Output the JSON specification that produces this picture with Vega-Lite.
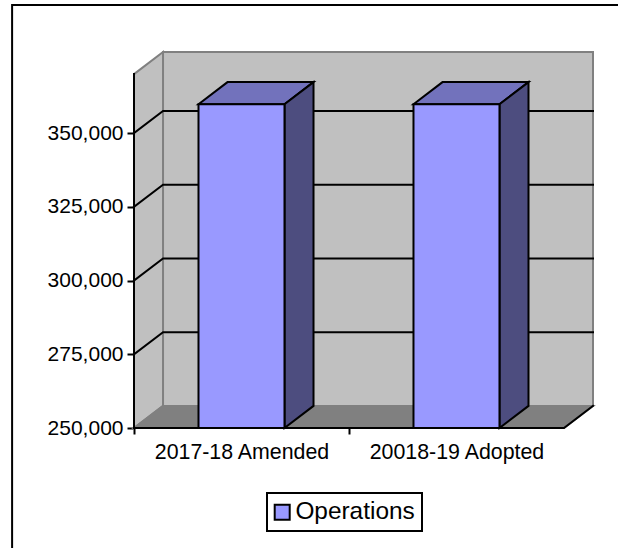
{
  "$schema": "https://vega.github.io/schema/vega-lite/v6.json",
  "width": 459,
  "height": 376,
  "padding": {"left": 134, "top": 52, "right": 25, "bottom": 120},
  "autosize": "none",
  "background": "white",
  "view": {"stroke": null},
  "datasets": {
    "walls": [
      {"face": "back wall", "x": 0.135, "low": 257500, "high": 377500},
      {"face": "back wall", "x": 2.135, "low": 257500, "high": 377500},
      {"face": "side wall", "x": 0, "low": 250000, "high": 370000},
      {"face": "side wall", "x": 0.135, "low": 257500, "high": 377500},
      {"face": "floor", "x": 0, "low": 250000, "high": 250000},
      {"face": "floor", "x": 0.135, "low": 250000, "high": 257500},
      {"face": "floor", "x": 2, "low": 250000, "high": 257500},
      {"face": "floor", "x": 2.135, "low": 257500, "high": 257500}
    ],
    "edges": [
      {"edge": "grid 275000", "order": 1, "x": 0, "y": 275000},
      {"edge": "grid 275000", "order": 2, "x": 0.135, "y": 282500},
      {"edge": "grid 275000", "order": 3, "x": 2.135, "y": 282500},
      {"edge": "grid 300000", "order": 1, "x": 0, "y": 300000},
      {"edge": "grid 300000", "order": 2, "x": 0.135, "y": 307500},
      {"edge": "grid 300000", "order": 3, "x": 2.135, "y": 307500},
      {"edge": "grid 325000", "order": 1, "x": 0, "y": 325000},
      {"edge": "grid 325000", "order": 2, "x": 0.135, "y": 332500},
      {"edge": "grid 325000", "order": 3, "x": 2.135, "y": 332500},
      {"edge": "grid 350000", "order": 1, "x": 0, "y": 350000},
      {"edge": "grid 350000", "order": 2, "x": 0.135, "y": 357500},
      {"edge": "grid 350000", "order": 3, "x": 2.135, "y": 357500},
      {"edge": "value axis", "order": 1, "x": 0, "y": 370000},
      {"edge": "value axis", "order": 2, "x": 0, "y": 250000},
      {"edge": "category axis", "order": 1, "x": 0, "y": 250000},
      {"edge": "category axis", "order": 2, "x": 2, "y": 250000},
      {"edge": "category axis", "order": 3, "x": 2.135, "y": 257500},
      {"edge": "frame", "order": 1, "x": -0.567, "y": 200000},
      {"edge": "frame", "order": 2, "x": -0.567, "y": 393400},
      {"edge": "frame", "order": 3, "x": 2.4, "y": 393400}
    ],
    "barFaces": [
      {"bar": "2017-18 Amended", "face": "top", "x": 0.3, "low": 359800, "high": 359800},
      {"bar": "2017-18 Amended", "face": "top", "x": 0.435, "low": 359800, "high": 367300},
      {"bar": "2017-18 Amended", "face": "top", "x": 0.7, "low": 359800, "high": 367300},
      {"bar": "2017-18 Amended", "face": "top", "x": 0.835, "low": 367300, "high": 367300},
      {"bar": "2017-18 Amended", "face": "side", "x": 0.7, "low": 250000, "high": 359800},
      {"bar": "2017-18 Amended", "face": "side", "x": 0.835, "low": 257500, "high": 367300},
      {"bar": "20018-19 Adopted", "face": "top", "x": 1.3, "low": 359800, "high": 359800},
      {"bar": "20018-19 Adopted", "face": "top", "x": 1.435, "low": 359800, "high": 367300},
      {"bar": "20018-19 Adopted", "face": "top", "x": 1.7, "low": 359800, "high": 367300},
      {"bar": "20018-19 Adopted", "face": "top", "x": 1.835, "low": 367300, "high": 367300},
      {"bar": "20018-19 Adopted", "face": "side", "x": 1.7, "low": 250000, "high": 359800},
      {"bar": "20018-19 Adopted", "face": "side", "x": 1.835, "low": 257500, "high": 367300}
    ],
    "bars": [
      {"category": "2017-18 Amended", "series": "Operations", "start": 0.3, "end": 0.7, "value": 359800},
      {"category": "20018-19 Adopted", "series": "Operations", "start": 1.3, "end": 1.7, "value": 359800}
    ]
  },
  "encoding": {
    "x": {
      "type": "quantitative",
      "scale": {"domain": [0, 2.135], "nice": false, "zero": false},
      "axis": {
        "title": null,
        "grid": false,
        "domain": false,
        "values": [0, 0.5, 1, 1.5],
        "tickColor": "black",
        "tickWidth": 2,
        "tickSize": 6,
        "tickOpacity": {"condition": {"test": "datum.value % 1 === 0", "value": 1}, "value": 0},
        "labelExpr": "datum.value === 0.5 ? '2017-18 Amended' : datum.value === 1.5 ? '20018-19 Adopted' : ''",
        "labelFont": "Liberation Sans",
        "labelFontSize": 21.35,
        "labelColor": "black",
        "labelPadding": 7,
        "labelOverlap": false,
        "labelFlush": false
      }
    },
    "y": {
      "type": "quantitative",
      "scale": {"domain": [250000, 377500], "nice": false, "zero": false},
      "axis": {
        "title": null,
        "grid": false,
        "domain": false,
        "values": [250000, 275000, 300000, 325000, 350000],
        "labelExpr": "format(datum.value, ',')",
        "tickColor": "black",
        "tickWidth": 2,
        "tickSize": 7,
        "labelFont": "Liberation Sans",
        "labelFontSize": 21,
        "labelColor": "black",
        "labelPadding": 4,
        "labelFlush": false
      }
    }
  },
  "layer": [
    {
      "data": {"name": "walls"},
      "mark": {"type": "area", "stroke": "#808080", "strokeWidth": 2, "orient": "vertical"},
      "encoding": {
        "x": {"field": "x"},
        "y": {"field": "high"},
        "y2": {"field": "low"},
        "color": {"field": "face", "type": "nominal", "legend": null,
          "scale": {"domain": ["back wall", "side wall", "floor"], "range": ["#C0C0C0", "#C0C0C0", "#808080"]}}
      }
    },
    {
      "data": {"name": "edges"},
      "mark": {"type": "line", "stroke": "black", "strokeWidth": 2, "clip": false, "strokeCap": "square"},
      "encoding": {
        "x": {"field": "x"},
        "y": {"field": "y"},
        "detail": {"field": "edge"},
        "order": {"field": "order"}
      }
    },
    {
      "data": {"name": "barFaces"},
      "mark": {"type": "area", "stroke": "black", "strokeWidth": 2, "orient": "vertical"},
      "encoding": {
        "x": {"field": "x"},
        "y": {"field": "high"},
        "y2": {"field": "low"},
        "detail": {"field": "bar"},
        "fill": {"field": "face", "type": "nominal", "legend": null,
          "scale": {"domain": ["top", "side"], "range": ["#7272BC", "#4D4D7F"]}}
      }
    },
    {
      "data": {"name": "bars"},
      "mark": {"type": "rect", "stroke": "black", "strokeWidth": 2},
      "encoding": {
        "x": {"field": "start"},
        "x2": {"field": "end"},
        "y": {"field": "value"},
        "y2": {"datum": 250000},
        "color": {"field": "series", "type": "nominal",
          "scale": {"domain": ["Operations"], "range": ["#9999FF"]},
          "legend": {
            "title": null,
            "orient": "none",
            "legendX": 133,
            "legendY": 441,
            "fillColor": "white",
            "strokeColor": "black",
            "symbolType": "square",
            "symbolSize": 225,
            "symbolStrokeColor": "black",
            "symbolStrokeWidth": 2,
            "symbolFillColor": "#9999FF",
            "symbolOpacity": 1,
            "symbolOffset": -4,
            "labelFont": "Liberation Sans",
            "labelFontSize": 24.4,
            "labelColor": "black",
            "labelOffset": 1,
            "padding": 7
          }
        }
      }
    }
  ],
  "resolve": {"scale": {"color": "independent", "fill": "independent"}},
  "config": {"legend": {"strokeWidth": 2}}
}
